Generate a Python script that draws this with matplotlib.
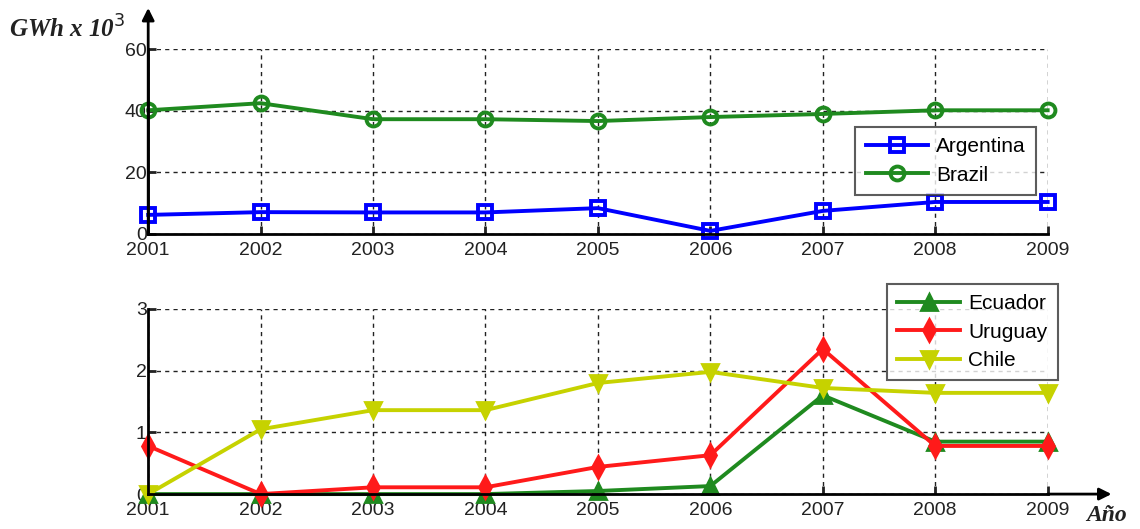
import matplotlib.pyplot as plt

plt.rcParams['font.family'] = ['Liberation Sans', 'DejaVu Sans']

years = [2001, 2002, 2003, 2004, 2005, 2006, 2007, 2008, 2009]

argentina = [6.2, 7.1, 7.0, 7.0, 8.4, 1.0, 7.5, 10.4, 10.4]
brazil = [40.2, 42.5, 37.3, 37.3, 36.7, 38.0, 39.0, 40.2, 40.2]

ecuador = [0.0, 0.0, 0.0, 0.0, 0.05, 0.13, 1.6, 0.85, 0.85]
uruguay = [0.78, 0.0, 0.11, 0.11, 0.44, 0.63, 2.35, 0.78, 0.78]
chile = [0.0, 1.05, 1.36, 1.36, 1.8, 1.98, 1.72, 1.64, 1.64]

top_ticks = [0, 20, 40, 60]
bottom_ticks = [0, 1, 2, 3]

fig = plt.figure(figsize=(11.4, 5.29), dpi=100)
ax1 = fig.add_axes([0.130, 0.5577, 0.789, 0.349])
ax2 = fig.add_axes([0.130, 0.066, 0.789, 0.350])

lw = 2.8
ax1.plot(years, argentina, '-s', color='#0000ff', lw=lw, ms=10, mfc='none', mew=2.8, label='Argentina')
ax1.plot(years, brazil, '-o', color='#1f8a1f', lw=lw, ms=10, mfc='none', mew=2.8, label='Brazil')

ax2.plot(years, ecuador, '-^', color='#1f8a1f', lw=lw, ms=11, mew=2, label='Ecuador')
ax2.plot(years, uruguay, '-d', color='#ff1a1a', lw=lw, ms=11, mew=2, label='Uruguay')
ax2.plot(years, chile, '-v', color='#c6d200', lw=lw, ms=12, mew=2, label='Chile')

for ax, yt in ((ax1, top_ticks), (ax2, bottom_ticks)):
    ax.set_xlim(years[0], years[-1])
    ax.set_ylim(yt[0], yt[-1])
    ax.set_xticks(years)
    ax.set_yticks(yt)
    ax.spines['top'].set_visible(False)
    ax.spines['right'].set_visible(False)
    for s in ('left', 'bottom'):
        ax.spines[s].set_linewidth(2)
    ax.grid(True, color='#222222', linestyle=(0, (3, 3)), linewidth=1)
    ax.tick_params(direction='in', length=6, width=2, labelsize=14, colors='#222222')
    ax.tick_params(axis='x', pad=6)
    ax.tick_params(axis='y', pad=1)
    for sp in ax.spines.values():
        sp.set_zorder(5)
    for line in ax.get_lines():
        line.set_clip_on(False)

# axis arrows
ax1.annotate('', xy=(0.130, 0.985), xytext=(0.130, 0.5577), xycoords='figure fraction',
             arrowprops=dict(arrowstyle='-|>', color='black', lw=2, mutation_scale=18,
                             shrinkA=0, shrinkB=0))
ax2.annotate('', xy=(0.975, 0.066), xytext=(0.919, 0.066), xycoords='figure fraction',
             arrowprops=dict(arrowstyle='-|>', color='black', lw=2, mutation_scale=18,
                             shrinkA=0, shrinkB=0))

fig.text(0.008, 0.945, r'GWh x 10$^{3}$', family='Liberation Serif', style='italic',
         weight='bold', fontsize=18, color='#222222', va='center')
fig.text(0.953, 0.025, 'Año', family='Liberation Serif', style='italic',
         weight='bold', fontsize=17, color='#222222', va='center')

leg_kw = dict(fontsize=15, frameon=True, fancybox=False, edgecolor='#333333',
              handlelength=3.0, handletextpad=0.4, borderpad=0.5, labelspacing=0.45,
              bbox_transform=fig.transFigure)
leg1 = ax1.legend(loc='upper left', bbox_to_anchor=(0.741, 0.780), **leg_kw)
leg1.get_frame().set_linewidth(1.5)
leg2 = ax2.legend(loc='upper left', bbox_to_anchor=(0.769, 0.483), **leg_kw)
leg2.get_frame().set_linewidth(1.5)

fig.savefig('out.png', dpi=100)
